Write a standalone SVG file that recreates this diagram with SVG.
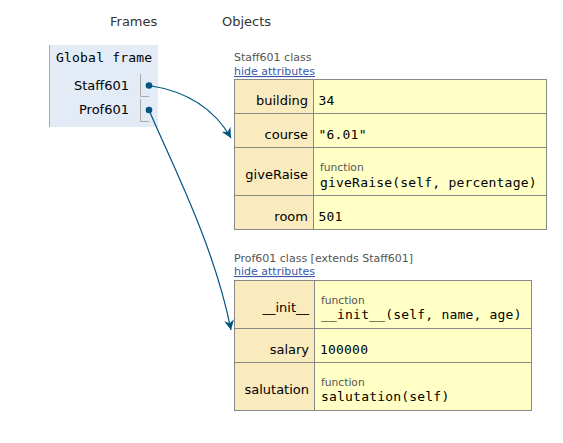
<svg xmlns="http://www.w3.org/2000/svg" width="563" height="443" viewBox="0 0 563 443">
<style>
.sans{font-family:"DejaVu Sans",Verdana,sans-serif}
.mono{font-family:"DejaVu Sans Mono","Liberation Mono",monospace;letter-spacing:0.2px}
.hdr{font-size:13px;fill:#333}
.ttl{font-size:11px;fill:#555}
.lnk{font-size:11px;fill:#3d58a2;text-decoration:underline}
.key{font-size:13px;fill:#000;text-anchor:end}
.val{font-size:13px;fill:#000}
.fn{font-size:10.7px;fill:#555}
.kc{fill:#faebbf;stroke:#888;stroke-width:1}
.vc{fill:#ffffc6;stroke:#888;stroke-width:1}
.br{fill:none;stroke:#aaa;stroke-width:1}
.edge{fill:none;stroke:#005583;stroke-width:1.2}
</style>
<defs>
<marker id="ah" viewBox="0 0 10 10" refX="10" refY="5" markerWidth="10" markerHeight="10" markerUnits="userSpaceOnUse" orient="auto">
<path d="M0,0 L10,5 L0,10 L3,5 Z" fill="#005583"/>
</marker>
</defs>
<rect width="563" height="443" fill="#fff"/>
<text class="sans hdr" x="110" y="26">Frames</text>
<text class="sans hdr" x="222" y="26">Objects</text>

<g id="global-frame">
<rect x="49" y="45" width="109" height="82" fill="#e2ebf6"/>
<line x1="49.5" y1="45" x2="49.5" y2="127" stroke="#aaa"/>
<text class="mono" x="56" y="62" font-size="13" fill="#000">Global frame</text>
<text class="sans key" x="129" y="90">Staff601</text>
<path class="br" d="M140.5,74 V96.5 H149"/>
<text class="sans key" x="129" y="114">Prof601</text>
<path class="br" d="M140.5,99 V121.5 H149"/>
<circle cx="149" cy="85.5" r="3.3" fill="#005583"/>
<circle cx="149" cy="110" r="3.3" fill="#005583"/>
</g>

<g id="staff601">
<text class="sans ttl" x="234" y="61">Staff601 class</text>
<text class="sans lnk" x="234" y="75">hide attributes</text>
<rect class="kc" x="234.5" y="79.5" width="79" height="34"/>
<rect class="vc" x="313.5" y="79.5" width="233" height="34"/>
<rect class="kc" x="234.5" y="113.5" width="79" height="34"/>
<rect class="vc" x="313.5" y="113.5" width="233" height="34"/>
<rect class="kc" x="234.5" y="147.5" width="79" height="48"/>
<rect class="vc" x="313.5" y="147.5" width="233" height="48"/>
<rect class="kc" x="234.5" y="195.5" width="79" height="34"/>
<rect class="vc" x="313.5" y="195.5" width="233" height="34"/>
<text class="sans key" x="308" y="105">building</text>
<text class="mono val" x="318.5" y="105">34</text>
<text class="sans key" x="308" y="139">course</text>
<text class="mono val" x="318.5" y="139">"6.01"</text>
<text class="sans key" x="308" y="179">giveRaise</text>
<text class="sans fn" x="320" y="171">function</text>
<text class="mono val" x="320" y="187">giveRaise(self, percentage)</text>
<text class="sans key" x="308" y="221">room</text>
<text class="mono val" x="318.5" y="221">501</text>
</g>

<g id="prof601">
<text class="sans ttl" x="234" y="262">Prof601 class [extends Staff601]</text>
<text class="sans lnk" x="234" y="275">hide attributes</text>
<rect class="kc" x="234.5" y="280.5" width="80" height="48"/>
<rect class="vc" x="314.5" y="280.5" width="217" height="48"/>
<rect class="kc" x="234.5" y="328.5" width="80" height="34"/>
<rect class="vc" x="314.5" y="328.5" width="217" height="34"/>
<rect class="kc" x="234.5" y="362.5" width="80" height="48"/>
<rect class="vc" x="314.5" y="362.5" width="217" height="48"/>
<text class="sans key" x="309" y="312">__init__</text>
<text class="sans fn" x="321" y="304">function</text>
<text class="mono val" x="321" y="319">__init__(self, name, age)</text>
<text class="sans key" x="309" y="354">salary</text>
<text class="mono val" x="320" y="354">100000</text>
<text class="sans key" x="309" y="394">salutation</text>
<text class="sans fn" x="321" y="386">function</text>
<text class="mono val" x="321" y="401">salutation(self)</text>
</g>

<g id="connectors">
<path class="edge" d="M149,85.5 C185,91 214,108 231,138" marker-end="url(#ah)"/>
<path class="edge" d="M149,110 C170,160 214,244 231,330" marker-end="url(#ah)"/>
</g>
</svg>
